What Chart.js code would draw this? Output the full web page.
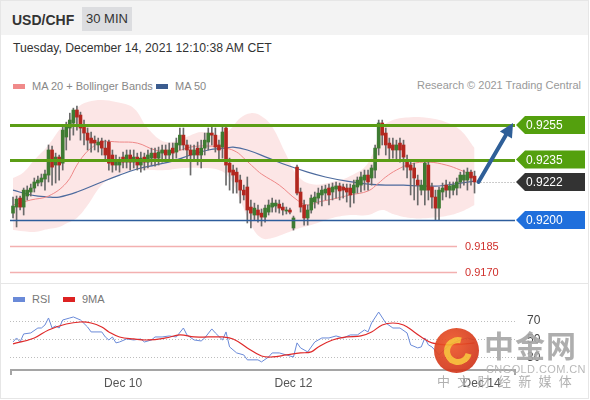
<!DOCTYPE html>
<html>
<head>
<meta charset="utf-8">
<script src="https://cdn.jsdelivr.net/npm/chart.js@4.4.0/dist/chart.umd.min.js"></script>
<style>
body{margin:0;background:#fff;font-family:"Liberation Sans",Arial,sans-serif;}
#wrap{position:relative;width:590px;height:400px;overflow:hidden;}
#frame{position:absolute;left:0;top:0;width:587px;height:397px;border:1px solid #e6e6e6;}
#head{position:absolute;left:1px;top:1px;width:587px;height:34px;background:#f3f3f3;}
.pair{position:absolute;left:11px;top:11px;font-weight:bold;font-size:14px;color:#333;}
.tf{position:absolute;left:81px;top:6px;width:50px;height:24px;line-height:24px;text-align:center;background:#dcdde0;font-size:13px;color:#333;}
#date{position:absolute;left:13px;top:41px;font-size:12.2px;color:#333;white-space:nowrap;}
.leg{position:absolute;font-size:11px;color:#888;white-space:nowrap;}
.sw{display:inline-block;width:12px;height:5px;vertical-align:middle;margin-right:7px;position:relative;top:-1px;}
#credit{position:absolute;right:9px;top:79px;font-size:11px;color:#999;white-space:nowrap;}
#sep{position:absolute;left:1px;top:283px;width:587px;height:1px;background:#e6e6e6;}
canvas{position:absolute;left:0;}
#wm{position:absolute;left:0;top:0;width:590px;height:400px;opacity:0.92;white-space:nowrap;}
.logo{position:absolute;left:434px;top:328px;width:45px;height:45px;border-radius:50%;background:radial-gradient(circle at 40% 35%,#ef5a2a,#c72b19);}
.swirl{position:absolute;left:444px;top:337px;width:16px;height:16px;border-radius:50%;border:6px solid #f6b42e;border-right-color:transparent;transform:rotate(-30deg);}
.wm1{position:absolute;left:484px;top:326px;font-family:"Noto Sans CJK SC";font-weight:bold;font-size:30px;line-height:36px;color:#a8a8a8;letter-spacing:1px;}
.wm2{position:absolute;left:486px;top:363px;font-size:11px;color:#b3b3b3;letter-spacing:0.4px;}
.wm3{position:absolute;left:437px;top:373px;font-family:"Noto Sans CJK SC";font-size:13px;line-height:16px;color:#aaa;letter-spacing:7.3px;}
</style>
</head>
<body>
<div id="wrap">
  <div id="frame"></div>
  <div id="head"><span class="pair">USD/CHF</span><span class="tf">30 MIN</span></div>
  <div id="date">Tuesday, December 14, 2021 12:10:38 AM CET</div>
  <div class="leg" style="left:13px;top:80px"><span class="sw" style="background:#f08a8a"></span>MA 20 + Bollinger Bands</div>
  <div class="leg" style="left:156px;top:80px"><span class="sw" style="background:#3b5c8f"></span>MA 50</div>
  <div id="credit">Research © 2021 Trading Central</div>
  <canvas id="priceChart" width="590" height="188" style="top:95px"></canvas>
  <div id="sep"></div>
  <div class="leg" style="left:13px;top:293px;color:#777"><span class="sw" style="background:#6a8ad8"></span>RSI</div>
  <div class="leg" style="left:63px;top:293px;color:#777"><span class="sw" style="background:#dd2222"></span>9MA</div>
  <canvas id="rsiChart" width="590" height="95" style="top:303px"></canvas>
  <div id="wm">
    <div class="logo"></div><div class="swirl"></div>
    <div class="wm1">中金网</div>
    <div class="wm2">CNGOLD.COM.CN</div>
    <div class="wm3">中文财经新媒体</div>
  </div>
</div>
<script>
// 30 min candles, [open, high, low, close]
var candles = [
[0.92040,0.92133,0.92012,0.92081],[0.92075,0.92139,0.91960,0.92121],[0.92127,0.92139,0.92058,0.92075],[0.92075,0.92185,0.92029,0.92173],
[0.92139,0.92197,0.92116,0.92173],[0.92162,0.92208,0.92139,0.92185],[0.92185,0.92243,0.92162,0.92220],[0.92214,0.92254,0.92197,0.92231],
[0.92220,0.92266,0.92197,0.92243],[0.92237,0.92289,0.92173,0.92266],[0.92260,0.92434,0.92220,0.92405],[0.92405,0.92428,0.92202,0.92306],
[0.92318,0.92387,0.92214,0.92364],[0.92364,0.92376,0.92231,0.92318],[0.92329,0.92543,0.92289,0.92520],[0.92480,0.92566,0.92405,0.92538],
[0.92532,0.92618,0.92462,0.92578],[0.92561,0.92647,0.92491,0.92636],[0.92636,0.92659,0.92520,0.92595],[0.92607,0.92624,0.92462,0.92532],
[0.92538,0.92578,0.92434,0.92503],[0.92503,0.92532,0.92405,0.92462],[0.92474,0.92509,0.92393,0.92445],[0.92462,0.92486,0.92405,0.92445],
[0.92434,0.92474,0.92393,0.92451],[0.92457,0.92474,0.92376,0.92416],[0.92416,0.92462,0.92347,0.92376],[0.92451,0.92462,0.92289,0.92329],
[0.92376,0.92405,0.92277,0.92318],[0.92318,0.92376,0.92289,0.92347],[0.92318,0.92364,0.92277,0.92347],[0.92364,0.92393,0.92301,0.92335],
[0.92335,0.92405,0.92301,0.92376],[0.92376,0.92405,0.92289,0.92335],[0.92335,0.92405,0.92301,0.92364],[0.92364,0.92387,0.92289,0.92318],
[0.92318,0.92393,0.92277,0.92358],[0.92364,0.92387,0.92289,0.92335],[0.92335,0.92405,0.92301,0.92376],[0.92358,0.92416,0.92318,0.92387],
[0.92387,0.92416,0.92312,0.92358],[0.92358,0.92422,0.92318,0.92393],[0.92387,0.92434,0.92335,0.92405],[0.92405,0.92434,0.92335,0.92376],
[0.92376,0.92445,0.92347,0.92405],[0.92416,0.92445,0.92347,0.92387],[0.92393,0.92474,0.92358,0.92445],[0.92434,0.92532,0.92405,0.92491],
[0.92491,0.92532,0.92405,0.92434],[0.92434,0.92462,0.92347,0.92405],[0.92405,0.92434,0.92260,0.92376],[0.92376,0.92434,0.92347,0.92405],
[0.92416,0.92451,0.92318,0.92376],[0.92376,0.92462,0.92301,0.92416],[0.92416,0.92503,0.92376,0.92462],[0.92451,0.92532,0.92405,0.92503],
[0.92503,0.92538,0.92434,0.92491],[0.92491,0.92532,0.92393,0.92422],[0.92434,0.92462,0.92347,0.92405],[0.92422,0.92538,0.92358,0.92509],
[0.92532,0.92549,0.92202,0.92318],[0.92329,0.92358,0.92173,0.92277],[0.92289,0.92318,0.92156,0.92260],[0.92277,0.92301,0.92156,0.92220],
[0.92231,0.92260,0.92098,0.92173],[0.92173,0.92202,0.92116,0.92145],[0.92191,0.92249,0.91983,0.92058],[0.92075,0.92116,0.91954,0.92040],
[0.92029,0.92098,0.92000,0.92069],[0.92058,0.92087,0.91988,0.92029],[0.92040,0.92064,0.91965,0.92017],[0.92017,0.92087,0.91988,0.92069],
[0.92046,0.92116,0.92029,0.92087],[0.92075,0.92127,0.92046,0.92098],[0.92081,0.92116,0.92046,0.92098],[0.92092,0.92116,0.92040,0.92069],
[0.92075,0.92098,0.92029,0.92058],[0.92052,0.92075,0.92035,0.92058],[0.92058,0.92069,0.92035,0.92046],[0.91954,0.92023,0.91942,0.92012],
[0.92306,0.92318,0.92145,0.92156],[0.92162,0.92185,0.92046,0.92075],[0.92087,0.92116,0.91971,0.92012],[0.92012,0.92087,0.91971,0.92058],
[0.92058,0.92145,0.92040,0.92127],[0.92104,0.92162,0.92069,0.92133],[0.92127,0.92185,0.92092,0.92156],[0.92145,0.92197,0.92081,0.92173],
[0.92156,0.92202,0.92116,0.92179],[0.92185,0.92208,0.92087,0.92145],[0.92162,0.92214,0.92116,0.92191],[0.92179,0.92220,0.92127,0.92197],
[0.92197,0.92214,0.92116,0.92168],[0.92191,0.92208,0.92127,0.92173],[0.92185,0.92208,0.92104,0.92162],[0.92185,0.92208,0.92075,0.92145],
[0.92156,0.92231,0.92098,0.92202],[0.92191,0.92249,0.92156,0.92231],[0.92202,0.92277,0.92162,0.92249],[0.92231,0.92289,0.92173,0.92260],
[0.92260,0.92289,0.92173,0.92220],[0.92243,0.92318,0.92202,0.92301],[0.92289,0.92434,0.92243,0.92416],[0.92416,0.92578,0.92376,0.92561],
[0.92561,0.92578,0.92434,0.92491],[0.92503,0.92532,0.92376,0.92434],[0.92445,0.92474,0.92347,0.92416],[0.92434,0.92474,0.92358,0.92405],
[0.92405,0.92462,0.92347,0.92434],[0.92445,0.92474,0.92335,0.92405],[0.92434,0.92462,0.92289,0.92364],[0.92347,0.92376,0.92243,0.92306],
[0.92318,0.92347,0.92145,0.92289],[0.92301,0.92329,0.92116,0.92243],[0.92231,0.92260,0.92087,0.92202],[0.92173,0.92231,0.92145,0.92202],
[0.92173,0.92347,0.92087,0.92329],[0.92318,0.92335,0.92116,0.92173],[0.92191,0.92214,0.92069,0.92133],[0.92133,0.92173,0.92000,0.92069],
[0.92069,0.92191,0.92000,0.92173],[0.92162,0.92214,0.92116,0.92185],[0.92202,0.92231,0.92133,0.92173],[0.92173,0.92220,0.92127,0.92197],
[0.92173,0.92220,0.92145,0.92202],[0.92185,0.92243,0.92145,0.92220],[0.92220,0.92277,0.92185,0.92260],[0.92231,0.92289,0.92202,0.92260],
[0.92231,0.92301,0.92173,0.92277],[0.92277,0.92289,0.92202,0.92243],[0.92254,0.92283,0.92156,0.92220]
];

// moving averages read at these candle positions
var ma20Idx = [0,5,10,15,18,20,22,25,30,35,40,45,50,55,60,63,65,68,70,75,80,83,86,90,95,100,103,105,108,112,117,122,126,129,130];
var ma20 = [0.92087,0.92116,0.92139,0.92214,0.92318,0.92376,0.92416,0.92451,0.92451,0.92445,0.92405,0.92393,0.92422,0.92428,0.92416,0.92393,0.92358,0.92301,0.92266,0.92202,0.92116,0.92087,0.92104,0.92121,0.92145,0.92168,0.92214,0.92249,0.92289,0.92324,0.92335,0.92318,0.92289,0.92260,0.92243];
var ma50Idx = [0,5,10,13,18,25,30,35,40,45,50,55,60,62,66,72,77,83,88,94,100,105,110,115,120,126,130];
var ma50 = [0.92173,0.92145,0.92133,0.92133,0.92162,0.92220,0.92260,0.92295,0.92318,0.92341,0.92376,0.92405,0.92416,0.92422,0.92405,0.92358,0.92318,0.92277,0.92249,0.92225,0.92208,0.92202,0.92202,0.92197,0.92197,0.92214,0.92225];
var bandIdx = [0,3,6,10,13,15,18,21,25,29,34,38,43,48,53,58,61,64,67,70,73,77,80,84,90,95,100,104,107,112,117,122,126,130];
var bbUpper = [0.92243,0.92277,0.92347,0.92434,0.92520,0.92566,0.92647,0.92682,0.92694,0.92682,0.92647,0.92530,0.92451,0.92474,0.92509,0.92491,0.92520,0.92590,0.92618,0.92600,0.92540,0.92376,0.92260,0.92208,0.92220,0.92254,0.92330,0.92532,0.92578,0.92595,0.92590,0.92566,0.92520,0.92416];
var bbLower = [0.91942,0.91935,0.91931,0.91948,0.91960,0.91980,0.92012,0.92085,0.92202,0.92254,0.92289,0.92289,0.92289,0.92301,0.92301,0.92289,0.92243,0.92116,0.91971,0.91896,0.91896,0.91925,0.91948,0.91971,0.92012,0.92029,0.92029,0.92058,0.92035,0.92012,0.92012,0.92023,0.92046,0.92087];

// key levels
var resistances = [0.9255, 0.9235];
var pivot = 0.9200;
var supports = [0.9185, 0.9170];
var target = 0.9255;

// RSI panel
var rsiIdx = [0,1,2,3,5,7,8,9,10,11,12,13,14,16,17,19,21,22,25,26,27,28,29,30,32,34,36,37,39,40,42,44,46,48,49,51,53,54,56,57,59,60,61,63,65,66,69,70,72,73,75,77,79,80,81,83,85,87,89,91,93,95,97,99,100,101,103,105,107,109,111,112,114,115,116,117,118,120,123,126,128,130];
var rsi = [47.0,51.4,47.0,55.8,56.9,62.3,62.3,65.6,73.3,62.3,64.5,62.3,71.1,73.3,74.4,71.1,63.4,58.0,58.0,52.5,49.2,52.5,46.0,47.0,50.3,49.2,50.3,47.0,49.2,52.5,52.5,53.6,52.5,62.3,54.7,49.2,48.1,51.4,61.3,56.9,49.2,58.0,41.6,35.0,32.8,27.4,27.4,25.2,30.6,35.0,35.0,32.8,30.6,46.0,40.5,36.1,47.0,51.4,51.4,53.6,51.4,54.7,54.7,60.2,58.0,67.8,79.8,67.8,62.3,62.3,56.9,43.8,40.5,41.6,51.4,43.8,41.6,33.0,43.8,49.2,51.4,49.2];
var rsiMaIdx = [0,6,10,15,19,22,25,27,30,34,38,43,47,51,55,59,62,66,70,73,77,81,84,86,90,94,98,101,104,107,110,113,115,118,123,130];
var rsiMa = [44.9,51.4,60.2,66.7,68.9,67.8,63.4,58.0,52.5,50.3,49.2,51.4,54.7,52.5,52.5,52.5,50.3,40.5,31.7,30.6,32.8,35.0,36.1,41.6,49.2,52.5,53.6,58.0,65.6,67.8,65.6,58.0,52.5,46.0,43.8,46.0];
var rsiLevels = [30, 50, 70];
var dayIdx = [31, 79, 132];
var dayLabels = ['Dec 10', 'Dec 12', 'Dec 14'];

var FONT = '"Liberation Sans", Arial, sans-serif';

function pts(idx, vals){
  return idx.map(function(x, k){ return {x: x, y: vals[k]}; });
}

var wickData = candles.map(function(c, i){ return {x: i, y: [c[2], c[1]]}; });
var bodyData = candles.map(function(c, i){ return {x: i, y: [c[0], c[3]]}; });
var bodyColors = candles.map(function(c){ return c[3] >= c[0] ? '#3e7b32' : '#b2271f'; });
var lastClose = candles[candles.length - 1][3];

var levelPlugin = {
  id: 'levels',
  afterDatasetsDraw: function(chart){
    var ctx = chart.ctx, xs = chart.scales.x, ys = chart.scales.y, a = chart.chartArea;
    ctx.save();
    function hline(v, color, w, x2){
      var y = Math.round(ys.getPixelForValue(v)) + 0.5;
      ctx.strokeStyle = color; ctx.lineWidth = w;
      ctx.beginPath(); ctx.moveTo(a.left, y); ctx.lineTo(x2, y); ctx.stroke();
    }
    function tag(v, fill){
      var y = ys.getPixelForValue(v), x0 = a.right + 1, h = 9;
      ctx.beginPath();
      ctx.moveTo(x0, y); ctx.lineTo(x0 + 9, y - h); ctx.lineTo(585, y - h);
      ctx.lineTo(585, y + h); ctx.lineTo(x0 + 9, y + h); ctx.closePath();
      ctx.fillStyle = fill; ctx.fill();
      ctx.fillStyle = '#fff'; ctx.font = '12px ' + FONT; ctx.textBaseline = 'middle'; ctx.textAlign = 'left';
      ctx.fillText(v.toFixed(4), x0 + 10, y + 1);
    }
    resistances.forEach(function(v){ hline(v, '#5b9d15', 3, a.right); });
    hline(pivot, '#2d5d9c', 1.5, a.right);
    supports.forEach(function(v){
      hline(v, '#f3b0b0', 1.5, a.right - 58);
      ctx.fillStyle = '#d0302c'; ctx.font = '11px ' + FONT; ctx.textBaseline = 'middle'; ctx.textAlign = 'left';
      ctx.fillText(v.toFixed(4), a.right - 50, ys.getPixelForValue(v) + 1);
    });
    // last price dotted line
    var lx = xs.getPixelForValue(candles.length - 1) + 3, ly = Math.round(ys.getPixelForValue(lastClose)) + 0.5;
    ctx.strokeStyle = '#999'; ctx.lineWidth = 1; ctx.setLineDash([1, 2]);
    ctx.beginPath(); ctx.moveTo(lx, ly); ctx.lineTo(a.right, ly); ctx.stroke();
    ctx.setLineDash([]);
    resistances.forEach(function(v){ tag(v, '#54a00e'); });
    tag(lastClose, '#333');
    tag(pivot, '#1f6fdc');
    // arrow to target
    var sx = lx + 1, sy = ys.getPixelForValue(lastClose);
    var ex = a.right - 2, ey = ys.getPixelForValue(target) - 2;
    var ang = Math.atan2(ey - sy, ex - sx), hl = 14, hw = 7;
    var bx = ex - hl * Math.cos(ang), by = ey - hl * Math.sin(ang);
    ctx.strokeStyle = '#2f5f98'; ctx.fillStyle = '#2f5f98'; ctx.lineWidth = 4; ctx.lineCap = 'round';
    ctx.beginPath(); ctx.moveTo(sx, sy); ctx.lineTo(bx, by); ctx.stroke();
    ctx.beginPath(); ctx.moveTo(ex, ey);
    ctx.lineTo(bx + hw * Math.sin(ang), by - hw * Math.cos(ang));
    ctx.lineTo(bx - hw * Math.sin(ang), by + hw * Math.cos(ang));
    ctx.closePath(); ctx.fill();
    ctx.restore();
  }
};

new Chart(document.getElementById('priceChart'), {
  type: 'bar',
  data: {
    datasets: [
      { type: 'line', data: pts(bandIdx, bbUpper), borderColor: 'transparent', backgroundColor: 'rgba(248,186,186,0.36)',
        fill: '+1', pointRadius: 0, tension: 0.4, order: 6 },
      { type: 'line', data: pts(bandIdx, bbLower), borderColor: 'transparent', fill: false, pointRadius: 0, tension: 0.4, order: 6 },
      { type: 'line', data: pts(ma20Idx, ma20), borderColor: '#ee8787', borderWidth: 1, pointRadius: 0, tension: 0.4, fill: false, order: 4 },
      { type: 'line', data: pts(ma50Idx, ma50), borderColor: '#4d6b9e', borderWidth: 1.2, pointRadius: 0, tension: 0.4, fill: false, order: 4 },
      { data: wickData, backgroundColor: '#6a6a6a', barThickness: 1, grouped: false, order: 2 },
      { data: bodyData, backgroundColor: bodyColors, barThickness: 3, grouped: false, minBarLength: 1, order: 1 }
    ]
  },
  options: {
    responsive: false, animation: false,
    layout: { padding: { left: 10, right: 75, top: 0, bottom: 0 } },
    plugins: { legend: { display: false }, tooltip: { enabled: false } },
    scales: {
      x: { type: 'linear', min: -0.85, max: 141.4, offset: false, display: false },
      y: { min: 0.91636, max: 0.92723, beginAtZero: false, display: false }
    }
  },
  plugins: [levelPlugin]
});

var rsiPlugin = {
  id: 'rsiAxes',
  beforeDatasetsDraw: function(chart){
    var ctx = chart.ctx, ys = chart.scales.y, a = chart.chartArea;
    ctx.save();
    ctx.strokeStyle = '#bdbdbd'; ctx.lineWidth = 1; ctx.setLineDash([1, 2]);
    rsiLevels.forEach(function(v){
      var y = Math.round(ys.getPixelForValue(v)) + 0.5;
      ctx.beginPath(); ctx.moveTo(a.left, y); ctx.lineTo(a.right + 2, y); ctx.stroke();
    });
    ctx.restore();
  },
  afterDatasetsDraw: function(chart){
    var ctx = chart.ctx, xs = chart.scales.x, ys = chart.scales.y, a = chart.chartArea;
    ctx.save();
    ctx.fillStyle = '#444'; ctx.font = '12px ' + FONT; ctx.textBaseline = 'middle'; ctx.textAlign = 'left';
    rsiLevels.forEach(function(v){ ctx.fillText(String(v), a.right + 12, ys.getPixelForValue(v)); });
    ctx.strokeStyle = '#a5a5a5'; ctx.lineWidth = 2;
    ctx.beginPath();
    ctx.moveTo(a.left + 1, a.bottom + 5); ctx.lineTo(a.left + 1, a.bottom);
    ctx.lineTo(a.right, a.bottom); ctx.lineTo(a.right, a.bottom + 5);
    ctx.stroke();
    ctx.fillStyle = '#555'; ctx.textAlign = 'center';
    dayIdx.forEach(function(d, k){ ctx.fillText(dayLabels[k], xs.getPixelForValue(d), a.bottom + 14); });
    ctx.restore();
  }
};

new Chart(document.getElementById('rsiChart'), {
  type: 'line',
  data: {
    datasets: [
      { data: pts(rsiMaIdx, rsiMa), borderColor: '#df2a2a', borderWidth: 1.2, pointRadius: 0, tension: 0.4, fill: false },
      { data: pts(rsiIdx, rsi), borderColor: '#6a8ad8', borderWidth: 1, pointRadius: 0, tension: 0, fill: false }
    ]
  },
  options: {
    responsive: false, animation: false,
    layout: { padding: { left: 10, right: 75, top: 0, bottom: 28 } },
    plugins: { legend: { display: false }, tooltip: { enabled: false } },
    scales: {
      x: { type: 'linear', min: -0.85, max: 141.4, display: false },
      y: { min: 16.3, max: 89.7, display: false }
    }
  },
  plugins: [rsiPlugin]
});
</script>
</body>
</html>
